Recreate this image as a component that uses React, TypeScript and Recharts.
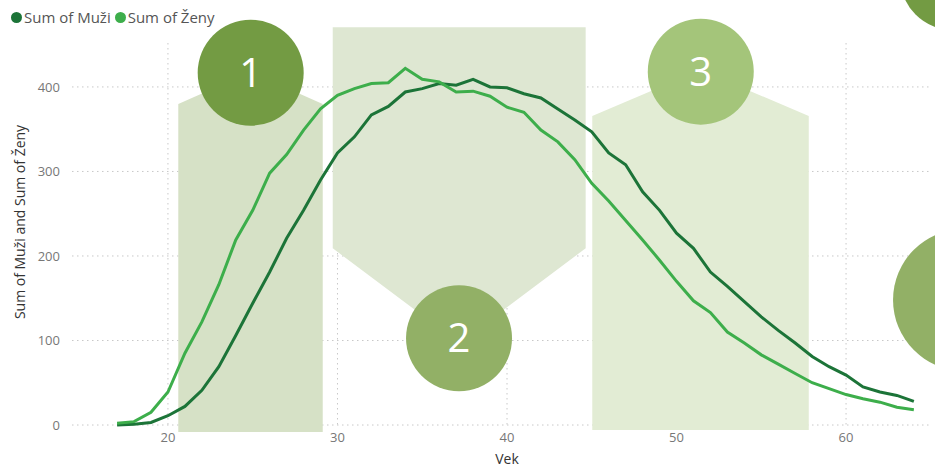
import React from 'react';
import {
  LineChart, Line, XAxis, YAxis, CartesianGrid, ReferenceArea, ReferenceDot,
} from 'recharts';

const ages = [
  17, 18, 19, 20, 21, 22, 23, 24, 25, 26, 27, 28, 29, 30, 31, 32,
  33, 34, 35, 36, 37, 38, 39, 40, 41, 42, 43, 44, 45, 46, 47, 48,
  49, 50, 51, 52, 53, 54, 55, 56, 57, 58, 59, 60, 61, 62, 63, 64,
];
const muzi = [
  0, 1, 3, 11, 22, 41, 69, 106, 144, 181, 221, 254, 290, 322, 341, 367,
  377, 394, 398, 404, 402, 409, 400, 399, 392, 387, 374, 361, 347, 322, 308, 276,
  254, 227, 209, 181, 164, 146, 128, 112, 97, 81, 69, 59, 45, 39, 35, 28,
];
const zeny = [
  2, 4, 15, 39, 85, 122, 166, 219, 254, 298, 320, 349, 374, 390, 398, 404,
  405, 422, 409, 406, 394, 395, 389, 376, 370, 349, 335, 314, 286, 265, 242, 219,
  195, 170, 147, 133, 110, 97, 83, 72, 61, 50, 43, 36, 31, 27, 21, 18,
];
const xTicks = [20, 30, 40, 50, 60];
const yTicks = [0, 100, 200, 300, 400];

const data = ages.map((age, i) => ({ age, muzi: muzi[i], zeny: zeny[i] }));

// background zones (decoration from the report page)
const zones = [
  { x1: 20.61, x2: 29.13, base: -8.3, shoulder: 379.9, peak: 417.8, up: true, fill: '#D6E1C6' },
  { x1: 29.72, x2: 44.64, base: 470.7, shoulder: 209.1, peak: 97, up: false, fill: '#DEE7D2' },
  { x1: 45.03, x2: 57.8, base: -5.9, shoulder: 365.7, peak: 420, up: true, fill: '#E2ECD4' },
];

const badges = [
  { x: 24.88, y: 416.9, r: 53, label: '1', fill: '#739B43' },
  { x: 37.17, y: 102.6, r: 53, label: '2', fill: '#92B066' },
  { x: 51.43, y: 418.1, r: 53, label: '3', fill: '#A4C57A' },
  { x: 66.31, y: 530, r: 53, label: '', fill: '#739B43' },
  { x: 66.96, y: 148, r: 71, label: '', fill: '#92B066' },
];

const DARK = '#1C7438';
const LIGHT = '#3DAE4B';
const FONT = '"Open Sans", "Noto Sans", sans-serif';

const zoneShape = (z: any) => (props: any) => {
  const { x, y, width: w, height: h } = props;
  if (z.up) {
    const f = (z.peak - z.shoulder) / (z.peak - z.base);
    const sy = y + f * h;
    return <path d={`M${x},${y + h}L${x},${sy}L${x + w / 2},${y}L${x + w},${sy}L${x + w},${y + h}Z`} fill={z.fill} />;
  }
  const f = (z.base - z.shoulder) / (z.base - z.peak);
  const sy = y + f * h;
  return <path d={`M${x},${y}L${x + w},${y}L${x + w},${sy}L${x + w / 2},${y + h}L${x},${sy}Z`} fill={z.fill} />;
};

const dot = (c: string) => (
  <span style={{ width: 11, height: 11, borderRadius: '50%', background: c, display: 'inline-block', marginRight: 2 }} />
);

export default function App() {
  return (
    <div style={{ position: 'absolute', left: 0, top: 0, width: 935, height: 467, background: '#fff', overflow: 'hidden' }}>
      <LineChart width={935} height={467} data={data} margin={{ top: 43, right: 3, bottom: 0, left: 0 }}>
        {zones.map((z, i) => (
          <ReferenceArea
            key={i}
            x1={z.x1}
            x2={z.x2}
            y1={z.up ? z.base : z.peak}
            y2={z.up ? z.peak : z.base}
            ifOverflow="visible"
            shape={zoneShape(z)}
          />
        ))}
        <CartesianGrid stroke="#C8C8C8" strokeDasharray="1.5 3.5" verticalValues={xTicks} horizontalValues={yTicks} />
        <XAxis
          dataKey="age"
          type="number"
          domain={[14.34, 65.07]}
          ticks={xTicks}
          axisLine={false}
          tickLine={false}
          tickSize={0}
          tickMargin={8}
          height={42}
          tick={{ fill: '#777', fontSize: 13, fontFamily: FONT }}
          label={{ value: 'Vek', position: 'insideBottom', offset: 3, dx: 5, fill: '#333', fontSize: 14, fontFamily: FONT }}
        />
        <YAxis
          type="number"
          domain={[0, 452]}
          ticks={yTicks}
          axisLine={false}
          tickLine={false}
          tickSize={0}
          tickMargin={12}
          width={72}
          tick={{ fill: '#777', fontSize: 13, fontFamily: FONT }}
          label={{ value: 'Sum of Muži and Sum of Ženy', angle: -90, position: 'insideLeft', offset: 20, dy: -12, fill: '#333', fontSize: 14, fontFamily: FONT, style: { textAnchor: 'middle' } }}
        />
        <Line type="linear" dataKey="muzi" name="Sum of Muži" stroke={DARK} strokeWidth={3} dot={false} isAnimationActive={false} />
        <Line type="linear" dataKey="zeny" name="Sum of Ženy" stroke={LIGHT} strokeWidth={3} dot={false} isAnimationActive={false} />
        {badges.map((b, i) => (
          <ReferenceDot
            key={i}
            x={b.x}
            y={b.y}
            r={b.r}
            fill={b.fill}
            stroke="none"
            ifOverflow="visible"
            label={b.label ? { value: b.label, position: 'center', fill: '#fff', fontSize: 40, fontFamily: FONT } : undefined}
          />
        ))}
      </LineChart>
      <div style={{ position: 'absolute', left: 11, top: 7, display: 'flex', alignItems: 'center', fontFamily: FONT, fontSize: 15, color: '#555' }}>
        {dot(DARK)}
        <span style={{ marginRight: 4 }}>Sum of Muži</span>
        {dot(LIGHT)}
        <span>Sum of Ženy</span>
      </div>
    </div>
  );
}
